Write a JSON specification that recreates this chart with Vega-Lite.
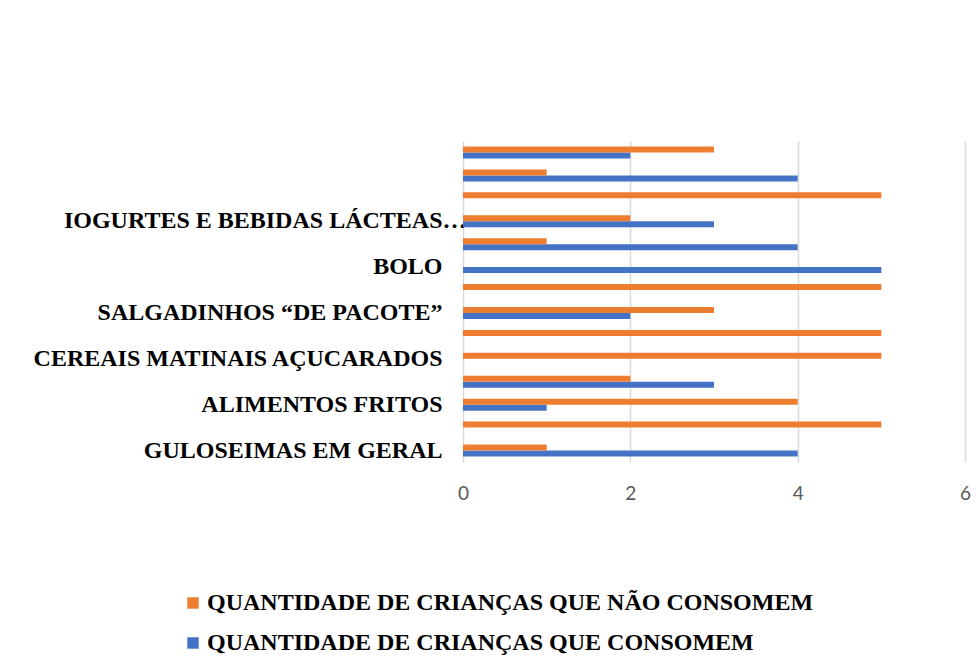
{
  "$schema": "https://vega.github.io/schema/vega-lite/v6.json",
  "width": 502,
  "height": 321,
  "autosize": "none",
  "padding": {"left": 463, "top": 141, "right": 13, "bottom": 209},
  "background": "white",
  "data": {
    "values": [
      {"ordem": 1, "alimento": "GULOSEIMAS EM GERAL", "grupo": "QUANTIDADE DE CRIANÇAS QUE CONSOMEM", "valor": 4},
      {"ordem": 1, "alimento": "GULOSEIMAS EM GERAL", "grupo": "QUANTIDADE DE CRIANÇAS QUE NÃO CONSOMEM", "valor": 1},
      {"ordem": 2, "alimento": "sem rótulo 2", "grupo": "QUANTIDADE DE CRIANÇAS QUE CONSOMEM", "valor": 0},
      {"ordem": 2, "alimento": "sem rótulo 2", "grupo": "QUANTIDADE DE CRIANÇAS QUE NÃO CONSOMEM", "valor": 5},
      {"ordem": 3, "alimento": "ALIMENTOS FRITOS", "grupo": "QUANTIDADE DE CRIANÇAS QUE CONSOMEM", "valor": 1},
      {"ordem": 3, "alimento": "ALIMENTOS FRITOS", "grupo": "QUANTIDADE DE CRIANÇAS QUE NÃO CONSOMEM", "valor": 4},
      {"ordem": 4, "alimento": "sem rótulo 4", "grupo": "QUANTIDADE DE CRIANÇAS QUE CONSOMEM", "valor": 3},
      {"ordem": 4, "alimento": "sem rótulo 4", "grupo": "QUANTIDADE DE CRIANÇAS QUE NÃO CONSOMEM", "valor": 2},
      {"ordem": 5, "alimento": "CEREAIS MATINAIS AÇUCARADOS", "grupo": "QUANTIDADE DE CRIANÇAS QUE CONSOMEM", "valor": 0},
      {"ordem": 5, "alimento": "CEREAIS MATINAIS AÇUCARADOS", "grupo": "QUANTIDADE DE CRIANÇAS QUE NÃO CONSOMEM", "valor": 5},
      {"ordem": 6, "alimento": "sem rótulo 6", "grupo": "QUANTIDADE DE CRIANÇAS QUE CONSOMEM", "valor": 0},
      {"ordem": 6, "alimento": "sem rótulo 6", "grupo": "QUANTIDADE DE CRIANÇAS QUE NÃO CONSOMEM", "valor": 5},
      {"ordem": 7, "alimento": "SALGADINHOS “DE PACOTE”", "grupo": "QUANTIDADE DE CRIANÇAS QUE CONSOMEM", "valor": 2},
      {"ordem": 7, "alimento": "SALGADINHOS “DE PACOTE”", "grupo": "QUANTIDADE DE CRIANÇAS QUE NÃO CONSOMEM", "valor": 3},
      {"ordem": 8, "alimento": "sem rótulo 8", "grupo": "QUANTIDADE DE CRIANÇAS QUE CONSOMEM", "valor": 0},
      {"ordem": 8, "alimento": "sem rótulo 8", "grupo": "QUANTIDADE DE CRIANÇAS QUE NÃO CONSOMEM", "valor": 5},
      {"ordem": 9, "alimento": "BOLO", "grupo": "QUANTIDADE DE CRIANÇAS QUE CONSOMEM", "valor": 5},
      {"ordem": 9, "alimento": "BOLO", "grupo": "QUANTIDADE DE CRIANÇAS QUE NÃO CONSOMEM", "valor": 0},
      {"ordem": 10, "alimento": "sem rótulo 10", "grupo": "QUANTIDADE DE CRIANÇAS QUE CONSOMEM", "valor": 4},
      {"ordem": 10, "alimento": "sem rótulo 10", "grupo": "QUANTIDADE DE CRIANÇAS QUE NÃO CONSOMEM", "valor": 1},
      {"ordem": 11, "alimento": "IOGURTES E BEBIDAS LÁCTEAS…", "grupo": "QUANTIDADE DE CRIANÇAS QUE CONSOMEM", "valor": 3},
      {"ordem": 11, "alimento": "IOGURTES E BEBIDAS LÁCTEAS…", "grupo": "QUANTIDADE DE CRIANÇAS QUE NÃO CONSOMEM", "valor": 2},
      {"ordem": 12, "alimento": "sem rótulo 12", "grupo": "QUANTIDADE DE CRIANÇAS QUE CONSOMEM", "valor": 0},
      {"ordem": 12, "alimento": "sem rótulo 12", "grupo": "QUANTIDADE DE CRIANÇAS QUE NÃO CONSOMEM", "valor": 5},
      {"ordem": 13, "alimento": "sem rótulo 13", "grupo": "QUANTIDADE DE CRIANÇAS QUE CONSOMEM", "valor": 4},
      {"ordem": 13, "alimento": "sem rótulo 13", "grupo": "QUANTIDADE DE CRIANÇAS QUE NÃO CONSOMEM", "valor": 1},
      {"ordem": 14, "alimento": "sem rótulo 14", "grupo": "QUANTIDADE DE CRIANÇAS QUE CONSOMEM", "valor": 2},
      {"ordem": 14, "alimento": "sem rótulo 14", "grupo": "QUANTIDADE DE CRIANÇAS QUE NÃO CONSOMEM", "valor": 3}
    ]
  },
  "mark": {"type": "bar"},
  "encoding": {
    "y": {
      "field": "alimento",
      "type": "nominal",
      "sort": {"field": "ordem", "order": "descending"},
      "scale": {"paddingInner": 0.478, "paddingOuter": 0.239},
      "axis": {
        "title": null,
        "domain": false,
        "ticks": false,
        "labelExpr": "indexof(datum.value, 'sem rótulo') == 0 ? '' : datum.label",
        "labelFont": "Liberation Serif",
        "labelFontWeight": "bold",
        "labelFontSize": 24,
        "labelColor": "#000000",
        "labelLimit": 0,
        "labelPadding": {"condition": {"test": "datum.value == 'IOGURTES E BEBIDAS LÁCTEAS…'", "value": -3}, "value": 21}
      }
    },
    "yOffset": {
      "field": "grupo",
      "type": "nominal",
      "sort": ["QUANTIDADE DE CRIANÇAS QUE NÃO CONSOMEM", "QUANTIDADE DE CRIANÇAS QUE CONSOMEM"],
      "scale": {"paddingInner": 0, "paddingOuter": 0}
    },
    "x": {
      "field": "valor",
      "type": "quantitative",
      "scale": {"domain": [0, 6]},
      "axis": {
        "title": null,
        "values": [0, 2, 4, 6],
        "domain": false,
        "ticks": false,
        "grid": true,
        "gridColor": "#d9d9d9",
        "gridWidth": 1.5,
        "labelFont": "Lato",
        "labelFontSize": 19,
        "labelColor": "#595959",
        "labelPadding": 22,
        "labelFlush": false
      }
    },
    "color": {
      "field": "grupo",
      "type": "nominal",
      "scale": {
        "domain": ["QUANTIDADE DE CRIANÇAS QUE NÃO CONSOMEM", "QUANTIDADE DE CRIANÇAS QUE CONSOMEM"],
        "range": ["#ED7D31", "#4472C4"]
      },
      "legend": {
        "title": null,
        "orient": "none",
        "legendX": -282,
        "legendY": 450,
        "padding": 0,
        "direction": "vertical",
        "symbolType": "square",
        "symbolSize": 130,
        "symbolStrokeWidth": 0,
        "symbolOffset": 0,
        "labelFont": "Liberation Serif",
        "labelFontWeight": "bold",
        "labelFontSize": 24,
        "labelColor": "#000000",
        "labelLimit": 0,
        "labelOffset": 2,
        "rowPadding": 16
      }
    }
  },
  "config": {
    "view": {"stroke": null}
  }
}
